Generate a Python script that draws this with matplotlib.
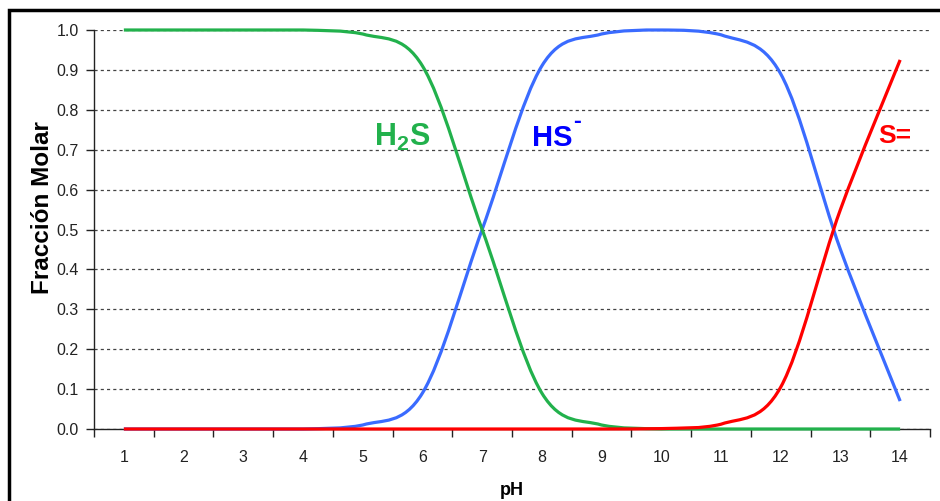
import matplotlib
matplotlib.use("Agg")
import matplotlib.pyplot as plt
from matplotlib.path import Path
from matplotlib.patches import PathPatch, Rectangle
import numpy as np

plt.rcParams['font.family'] = ['Liberation Sans', 'DejaVu Sans']
plt.rcParams['mathtext.fontset'] = 'custom'
plt.rcParams['mathtext.rm'] = 'Liberation Sans'
plt.rcParams['mathtext.bf'] = 'Liberation Sans:bold'

# ---- data ----
ph = [1, 2, 3, 4, 5, 6, 7, 8, 9, 10, 11, 12, 13, 14]
h2s = [1.0, 1.0, 1.0, 1.0, 0.99, 0.91, 0.50, 0.09, 0.01, 0.0, 0.0, 0.0, 0.0, 0.0]
hs = [0.0, 0.0, 0.0, 0.0, 0.01, 0.09, 0.50, 0.91, 0.99, 1.0, 0.988, 0.89, 0.45, 0.07]
s2 = [0.0, 0.0, 0.0, 0.0, 0.0, 0.0, 0.0, 0.0, 0.0, 0.001, 0.012, 0.105, 0.55, 0.925]
yticks = [0.0, 0.1, 0.2, 0.3, 0.4, 0.5, 0.6, 0.7, 0.8, 0.9, 1.0]

C_H2S = '#22B14C'
C_HS = '#3A6BFF'
C_S = '#FF0000'

fig = plt.figure(figsize=(9.4, 5.01), dpi=100)
ax = fig.add_axes([94/940, 1-429/501, (930-94)/940, (429-30)/501])


def smooth_path(x, y):
    """Excel-style smoothed line as cubic Bezier segments."""
    pts = np.column_stack([x, y]).astype(float)
    n = len(pts)
    verts = [pts[0]]
    codes = [Path.MOVETO]
    for i in range(n - 1):
        p0 = pts[i - 1] if i > 0 else pts[i]
        p1 = pts[i]
        p2 = pts[i + 1]
        p3 = pts[i + 2] if i + 2 < n else pts[i + 1]
        c1 = p1 + (p2 - p0) / 6.0
        c2 = p2 - (p3 - p1) / 6.0
        c1[1] = min(max(c1[1], 0.0), 1.0)
        c2[1] = min(max(c2[1], 0.0), 1.0)
        verts += [c1, c2, p2]
        codes += [Path.CURVE4] * 3
    return Path(verts, codes)


for ys, col in [(hs, C_HS), (h2s, C_H2S), (s2, C_S)]:
    patch = PathPatch(smooth_path(ph, ys), facecolor='none', edgecolor=col,
                      lw=2.3, clip_on=False, zorder=3, capstyle='butt')
    ax.add_patch(patch)

ax.set_xlim(0.5, 14.5)
ax.set_ylim(0, 1)

ax.set_yticks(yticks)
ax.set_yticklabels([f"{v:.1f}" for v in yticks])
ax.set_xticks(ph)
ax.set_xticklabels([str(p) for p in ph])
ax.set_xticks(np.arange(0.5, 15, 1.0), minor=True)
ax.tick_params(axis='x', which='major', length=0, pad=15, labelsize=11.5, colors='#222222')
ax.tick_params(axis='x', which='minor', length=6, width=1, direction='out', color='#222222')
ax.tick_params(axis='y', which='major', length=6, width=1, direction='out', pad=5,
               labelsize=11.5, colors='#222222')

ax.grid(axis='y', which='major', linestyle=(0, (2.5, 2.5)), color='#444444', lw=0.9)
ax.set_axisbelow(True)
for s in ['top', 'right']:
    ax.spines[s].set_visible(False)
for s in ['left', 'bottom']:
    ax.spines[s].set_color('#222222')
    ax.spines[s].set_linewidth(1.0)

ax.set_ylabel('Fracción Molar', fontsize=17.5, fontweight='bold')
ax.yaxis.set_label_coords(-(94-54)/836, (429-208)/399)
ax.set_xlabel('pH', fontsize=13, fontweight='bold')
ax.xaxis.set_label_coords((512-94)/836, -(482-429)/399)

ax.text(5.197, 0.709, r'$\mathbf{H_2S}$', color=C_H2S, fontsize=22,
        ha='left', va='baseline')
ax.text(7.84, 0.709, 'HS', color='#0000FF', fontsize=21, fontweight='bold',
        ha='left', va='baseline')
ax.text(8.527, 0.755, '-', color='#0000FF', fontsize=17, fontweight='bold',
        ha='left', va='baseline')
ax.text(13.64, 0.717, 'S=', color=C_S, fontsize=19, fontweight='bold',
        ha='left', va='baseline')

# outer frame
fig.patches.append(Rectangle((9/940, -0.2), 2.0, 1.2 - 10/501,
                             transform=fig.transFigure, fill=False,
                             edgecolor='black', lw=2.5, zorder=10))

fig.savefig('out.png', dpi=100)
